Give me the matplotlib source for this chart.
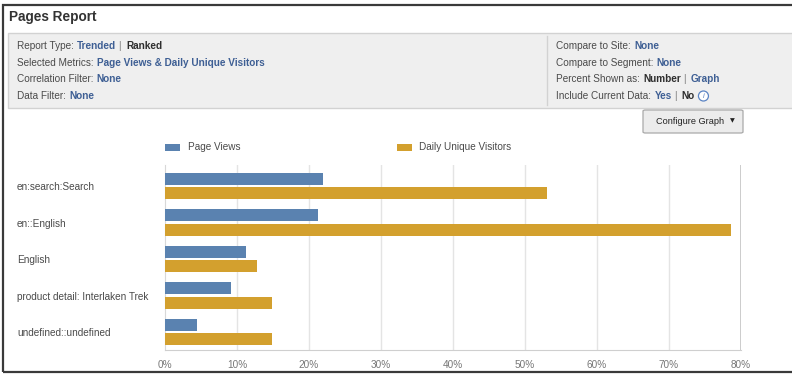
import matplotlib
matplotlib.use("Agg")
import matplotlib.pyplot as plt
from matplotlib.patches import Rectangle, FancyBboxPatch, Ellipse
from matplotlib.transforms import blended_transform_factory

W, H = 792, 375

# report rows and metric shares (% of total)
pages = ["en:search:Search", "en::English", "English",
         "product detail: Interlaken Trek", "undefined::undefined"]
page_views = [21.9, 21.2, 11.3, 9.2, 4.5]
daily_unique = [53.1, 78.7, 12.8, 14.8, 14.8]
x_ticks = [0, 10, 20, 30, 40, 50, 60, 70, 80]

BLUE = "#5a82b0"
GOLD = "#d3a02e"
LINK = "#3e5f94"
TXT = "#4a4a4a"
DARK = "#2e2e2e"
FS = 7.2

plt.rcParams["font.family"] = ["Liberation Sans", "DejaVu Sans"]

fig = plt.figure(figsize=(W / 100, H / 100), dpi=100)
fig.patch.set_facecolor("white")
renderer = fig.canvas.get_renderer()


def fx(px):
    return px / W


def fy(py):
    return 1 - py / H


def box(x0, y0, x1, y1, **kw):
    r = Rectangle((fx(x0), fy(y1)), (x1 - x0) / W, (y1 - y0) / H,
                  transform=fig.transFigure, **kw)
    fig.add_artist(r)
    return r


def _w(s, weight):
    t = fig.text(0, 0, s, fontsize=FS, fontweight=weight)
    w = t.get_window_extent(renderer=renderer).width
    t.remove()
    return w


SPACE = _w("x x", "normal") - _w("xx", "normal")


def runs(x, y, parts):
    """Draw label / value pieces one after another, one space apart."""
    for i, (s, color, weight) in enumerate(parts):
        if s == "|":
            # separator bar sits centred in its own gap
            fig.text(fx(x), fy(y), s, color=color, fontsize=FS,
                     ha="center", va="center")
            x += SPACE + 3.5
            continue
        t = fig.text(fx(x), fy(y), s, color=color, fontweight=weight,
                     fontsize=FS, ha="left", va="center")
        x += t.get_window_extent(renderer=renderer).width
        if i < len(parts) - 1:
            x += SPACE + 0.6
    return x


# ---------- page frame + header ----------
box(3, 5, 800, 372, facecolor="none", edgecolor="#3a3a3a", linewidth=1.6)
fig.text(fx(9), fy(16.5), "Pages Report", fontsize=9.8, fontweight="bold",
         color="#333333", ha="left", va="center")

box(8, 33, 800, 108, facecolor="#efefef", edgecolor="#d2d2d2", linewidth=1)
fig.add_artist(plt.Line2D([fx(547), fx(547)], [fy(36), fy(105)],
                          transform=fig.transFigure, color="#d2d2d2", lw=1))

SEP = ("|", "#777777", "normal")
runs(17, 46, [("Report Type:", TXT, "normal"), ("Trended", LINK, "bold"), SEP,
              ("Ranked", DARK, "bold")])
runs(17, 62.5, [("Selected Metrics:", TXT, "normal"),
                ("Page Views & Daily Unique Visitors", LINK, "bold")])
runs(17, 79.5, [("Correlation Filter:", TXT, "normal"), ("None", LINK, "bold")])
runs(17, 96, [("Data Filter:", TXT, "normal"), ("None", LINK, "bold")])

runs(556, 46, [("Compare to Site:", TXT, "normal"), ("None", LINK, "bold")])
runs(556, 62.5, [("Compare to Segment:", TXT, "normal"), ("None", LINK, "bold")])
runs(556, 79.5, [("Percent Shown as:", TXT, "normal"), ("Number", DARK, "bold"), SEP,
                 ("Graph", LINK, "bold")])
end = runs(556, 96, [("Include Current Data:", TXT, "normal"), ("Yes", LINK, "bold"), SEP,
                     ("No", DARK, "bold")])
cx = end + 9
fig.add_artist(Ellipse((fx(cx), fy(96)), 10 / W, 10 / H, transform=fig.transFigure,
                       facecolor="white", edgecolor="#5b84c4", linewidth=0.9))
fig.text(fx(cx), fy(96), "i", fontsize=5.5, color="#5b84c4", ha="center",
         va="center", fontstyle="italic")

# "Configure Graph" button
btn = FancyBboxPatch((fx(643), fy(133)), 100 / W, 23 / H,
                     boxstyle="round,pad=0,rounding_size=0.003",
                     transform=fig.transFigure, facecolor="#ececec",
                     edgecolor="#a9a9a9", linewidth=0.9)
fig.add_artist(btn)
fig.text(fx(656), fy(121.5), "Configure Graph", fontsize=6.6, color="#222222",
         ha="left", va="center")
fig.text(fx(732), fy(121), "\u25BC", fontsize=4.5, color="#222222",
         ha="center", va="center", family="DejaVu Sans")

# ---------- legend ----------
box(165, 144, 180, 151, facecolor=BLUE, edgecolor="none")
fig.text(fx(188), fy(147.5), "Page Views", fontsize=FS, color=TXT,
         ha="left", va="center")
box(397, 144, 412, 151, facecolor=GOLD, edgecolor="none")
fig.text(fx(419), fy(147.5), "Daily Unique Visitors", fontsize=FS, color=TXT,
         ha="left", va="center")

# ---------- bar chart ----------
ax = fig.add_axes([fx(165), fy(350.3), (740.7 - 165) / W, (350.3 - 165) / H])
ax.set_facecolor("none")
pos = list(range(len(pages)))
off, bh = 0.196, 0.33
ax.barh([p - off for p in pos], page_views, height=bh, color=BLUE, zorder=3)
ax.barh([p + off for p in pos], daily_unique, height=bh, color=GOLD, zorder=3)

ax.set_xlim(x_ticks[0], x_ticks[-1])
ax.set_ylim(4.5, -0.571)
for v in x_ticks[1:-1]:
    ax.axvline(v, color="#e4e4e4", lw=1, zorder=1)
ax.axvline(x_ticks[-1], color="#c4c4c4", lw=1.2, zorder=1)
for side in ["top", "right"]:
    ax.spines[side].set_visible(False)
ax.spines["left"].set_color("#d8d8d8")
ax.spines["bottom"].set_color("#cfcfcf")
ax.set_yticks([])
ax.set_xticks(x_ticks)
ax.set_xticklabels([f"{v}%" for v in x_ticks], fontsize=FS, color="#777777")
ax.tick_params(axis="x", length=0, pad=7)

lab_tr = blended_transform_factory(fig.transFigure, ax.transData)
for p, name in zip(pos, pages):
    ax.text(fx(17), p + 0.03, name, transform=lab_tr, fontsize=FS, color=TXT,
            ha="left", va="center")

fig.savefig("out.png", dpi=100, facecolor="white")
